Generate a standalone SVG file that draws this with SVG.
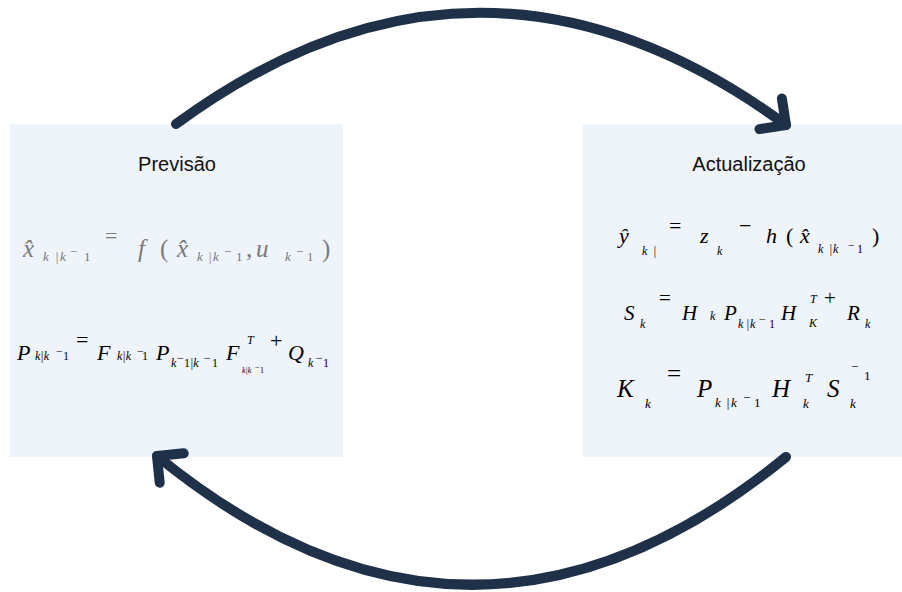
<svg xmlns="http://www.w3.org/2000/svg" width="902" height="592" viewBox="0 0 902 592">
<style>
.box{fill:#EFF3FA}
.title{font-family:"Liberation Sans",Arial,sans-serif;font-size:20px;fill:#111;text-anchor:middle}
.m{font-family:"Liberation Serif","Times New Roman",serif;font-style:italic;fill:#000}
.u{font-family:"Liberation Serif","Times New Roman",serif;font-style:normal;fill:#000}
.g{fill:#7A7A7A}
.c{fill:none;stroke:#1F3049;stroke-width:10;stroke-linecap:round;stroke-linejoin:round}
</style>
<defs>
<marker id="arr" markerUnits="userSpaceOnUse" viewBox="-30 -30 40 60" refX="0" refY="0" markerWidth="40" markerHeight="60" orient="auto" overflow="visible">
<path d="M-19,-19 L0,0 L-19,19" fill="none" stroke="#1F3049" stroke-width="10" stroke-linecap="round" stroke-linejoin="round"/>
</marker>
</defs>
<rect width="902" height="592" fill="#fff"/>
<g id="previsao">
<rect class="box" x="10" y="124" width="333" height="333"/>
<text class="title" x="177" y="171">Previsão</text>
<g font-size="25">
<text class="m g" x="23" y="257">x̂</text>
<text class="m g" font-size="13" x="43" y="261">k</text><text class="m g" font-size="13" x="55" y="261">|</text><text class="m g" font-size="13" x="60" y="261">k</text><text class="u g" font-size="13" x="70" y="256">−</text><text class="u g" font-size="13" x="84" y="261">1</text>
<text class="u g" font-size="22" x="105" y="243">=</text>
<text class="m g" x="138" y="257">f</text>
<text class="u g" x="160" y="257">(</text>
<text class="m g" x="177" y="257">x̂</text>
<text class="m g" font-size="13" x="197" y="261">k</text><text class="m g" font-size="13" x="208" y="261">|</text><text class="m g" font-size="13" x="213" y="261">k</text><text class="u g" font-size="13" x="224" y="256">−</text><text class="u g" font-size="13" x="236" y="261">1</text>
<text class="u g" x="246" y="257">,</text>
<text class="m g" x="256" y="257">u</text>
<text class="m g" font-size="13" x="285" y="261">k</text><text class="u g" font-size="13" x="296" y="256">−</text><text class="u g" font-size="13" x="307" y="261">1</text>
<text class="u g" x="322" y="257">)</text>
</g>
<g font-size="22">
<text class="m" x="17" y="360">P</text>
<text class="m" font-size="12" x="35" y="360">k|k</text><text class="u" font-size="12" x="56" y="355">−</text><text class="u" font-size="12" x="63" y="360">1</text>
<text class="u" x="76" y="347">=</text>
<text class="m" x="97" y="360">F</text>
<text class="m" font-size="12" x="117" y="360">k|k</text><text class="u" font-size="12" x="137" y="355">−</text><text class="u" font-size="12" x="142" y="360">1</text>
<text class="m" x="156" y="360">P</text>
<text class="m" font-size="12" x="171" y="367">k</text><text class="u" font-size="12" x="177" y="362">−</text><text class="u" font-size="12" x="184" y="367">1</text><text class="m" font-size="12" x="190" y="367">|k</text><text class="u" font-size="12" x="204" y="362">−</text><text class="u" font-size="12" x="212" y="367">1</text>
<text class="m" x="226" y="360">F</text>
<text class="m" font-size="12" x="247" y="344">T</text>
<text class="m" font-size="8" x="242" y="373">k|k</text><text class="u" font-size="8" x="255" y="370">−</text><text class="u" font-size="8" x="260" y="373">1</text>
<text class="u" x="270" y="348">+</text>
<text class="m" x="288" y="360">Q</text>
<text class="m" font-size="12" x="308" y="367">k</text><text class="u" font-size="12" x="316" y="362">−</text><text class="u" font-size="12" x="323" y="367">1</text>
</g>
</g>
<g id="actualizacao">
<rect class="box" x="583" y="124" width="319" height="333"/>
<text class="title" x="749" y="171">Actualização</text>
<g font-size="22">
<text class="m" x="619" y="243">ŷ</text>
<text class="m" font-size="12" x="642" y="255">k</text><text class="m" font-size="12" x="653" y="255">|</text>
<text class="u" x="669" y="233">=</text>
<text class="m" x="700" y="243">z</text>
<text class="m" font-size="12" x="717" y="255">k</text>
<text class="u" x="739" y="233">−</text>
<text class="m" x="766" y="243">h</text>
<text class="u" x="786" y="243">(</text>
<text class="m" x="800" y="243">x̂</text>
<text class="m" font-size="12" x="818" y="253">k</text><text class="m" font-size="12" x="829" y="253">|</text><text class="m" font-size="12" x="833" y="253">k</text><text class="u" font-size="12" x="848" y="249">−</text><text class="u" font-size="12" x="857" y="253">1</text>
<text class="u" x="872" y="243">)</text>
</g>
<g font-size="21">
<text class="m" x="624" y="320">S</text>
<text class="m" font-size="12" x="640" y="328">k</text>
<text class="u" x="659" y="305">=</text>
<text class="m" x="682" y="320">H</text>
<text class="m" font-size="12" x="710" y="320">k</text>
<text class="m" x="724" y="320">P</text>
<text class="m" font-size="12" x="738" y="328">k</text><text class="m" font-size="12" x="746" y="328">|</text><text class="m" font-size="12" x="750" y="328">k</text><text class="u" font-size="12" x="759" y="323">−</text><text class="u" font-size="12" x="769" y="328">1</text>
<text class="m" x="781" y="320">H</text>
<text class="m" font-size="12" x="810" y="303">T</text>
<text class="m" font-size="12" x="809" y="327">K</text>
<text class="u" x="824" y="305">+</text>
<text class="m" x="847" y="320">R</text>
<text class="m" font-size="12" x="865" y="328">k</text>
</g>
<g font-size="25">
<text class="m" x="617" y="397">K</text>
<text class="m" font-size="13" x="645" y="408">k</text>
<text class="u" x="667" y="382">=</text>
<text class="m" x="697" y="397">P</text>
<text class="m" font-size="13" x="715" y="407">k</text><text class="m" font-size="13" x="726" y="407">|</text><text class="m" font-size="13" x="731" y="407">k</text><text class="u" font-size="13" x="743" y="402">−</text><text class="u" font-size="13" x="754" y="407">1</text>
<text class="m" x="772" y="397">H</text>
<text class="m" font-size="13" x="805" y="382">T</text>
<text class="m" font-size="13" x="803" y="408">k</text>
<text class="m" x="827" y="397">S</text>
<text class="u" font-size="13" x="851" y="371">−</text>
<text class="u" font-size="13" x="864" y="380">1</text>
<text class="m" font-size="13" x="850" y="408">k</text>
</g>
</g>
<g id="connectors">
<path class="c" d="M176,124 Q480,-99 786,125" marker-end="url(#arr)"/>
<path class="c" d="M786,457 Q472,713 157,456" marker-end="url(#arr)"/>
</g>
</svg>
